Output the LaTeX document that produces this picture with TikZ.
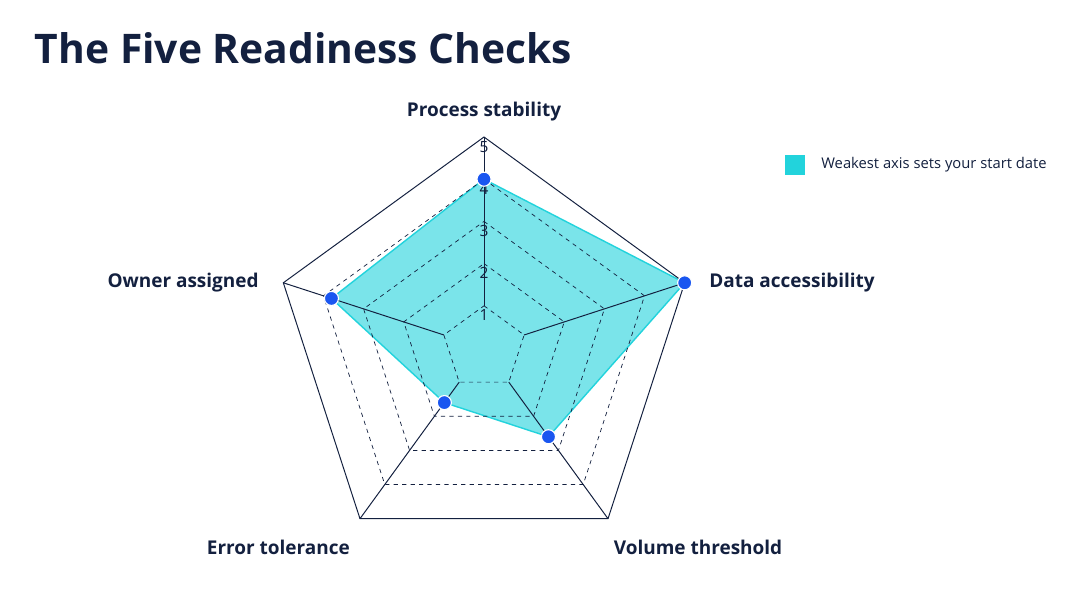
\documentclass[tikz,border=0pt]{standalone}
\usepackage{fontspec}
\setmainfont{Open Sans}
\definecolor{navy}{HTML}{13203F}
\definecolor{teal}{HTML}{22D3DC}
\definecolor{dotblue}{HTML}{1A56F0}
\tikzset{
  axislabel/.style={font=\fontsize{13.5}{16}\selectfont\bfseries, text=navy},
  ring/.style={draw=navy, dashed, line width=0.5pt},
  spoke/.style={draw=navy, line width=0.7pt},
  tick/.style={font=\fontsize{11}{13}\selectfont, text=navy, inner sep=0.5pt},
  dot/.style={circle, fill=dotblue, draw=white, line width=0.8pt, minimum size=10pt, inner sep=0pt}
}
\begin{document}
\begin{tikzpicture}[x=0.025cm, y=0.025cm]
\useasboundingbox (0,0) rectangle (1088,608);
\fill[white] (0,0) rectangle (1088,608);

\node[anchor=west, font=\fontsize{29}{33}\selectfont\bfseries, text=navy] (title) at (30,560) {The Five Readiness Checks};

\coordinate (center) at (484,260);

% data
\coordinate (p1) at ([shift={(90:168.8)}]center);
\coordinate (p2) at ([shift={(18:211)}]center);
\coordinate (p3) at ([shift={(-54:109.7)}]center);
\coordinate (p4) at ([shift={(-126:67.5)}]center);
\coordinate (p5) at ([shift={(162:160.4)}]center);
\filldraw[fill=teal, fill opacity=0.6, draw=teal, line width=1pt] (p1) -- (p2) -- (p3) -- (p4) -- (p5) -- cycle;

% rings and spokes
\foreach \k in {1,...,4}
  \draw[ring] ([shift={(90:42.2*\k)}]center) -- ([shift={(18:42.2*\k)}]center) -- ([shift={(-54:42.2*\k)}]center) -- ([shift={(-126:42.2*\k)}]center) -- ([shift={(162:42.2*\k)}]center) -- cycle;
\draw[spoke] ([shift={(90:211)}]center) coordinate (v1) -- ([shift={(18:211)}]center) coordinate (v2) -- ([shift={(-54:211)}]center) coordinate (v3) -- ([shift={(-126:211)}]center) coordinate (v4) -- ([shift={(162:211)}]center) coordinate (v5) -- cycle;
\foreach \a/\v in {90/v1,18/v2,-54/v3,-126/v4,162/v5}
  \draw[spoke] ([shift={(\a:42.2)}]center) -- (\v);

% tick labels
\foreach \k in {1,...,5}
  \node[tick, anchor=north] (tick\k) at ([shift={(0,42.2*\k-3)}]center) {\k};

\foreach \p in {p1,p2,p3,p4,p5}
  \node[dot] (dot\p) at (\p) {};

\node[axislabel, anchor=south] (process) at ([yshift=8]v1) {Process stability};
\node[axislabel, anchor=west] (data) at ([xshift=14]v2) {Data accessibility};
\node[axislabel, anchor=north] (volume) at ([xshift=64,yshift=-12]v3) {Volume threshold};
\node[axislabel, anchor=north] (error) at ([xshift=-58,yshift=-12]v4) {Error tolerance};
\node[axislabel, anchor=east] (owner) at ([xshift=-14]v5) {Owner assigned};

% legend
\node[fill=teal, minimum size=14pt, inner sep=0pt] (legbox) at (795,443) {};
\node[anchor=west, font=\fontsize{10.5}{12}\selectfont, text=navy] (legtext) at ([xshift=8]legbox.east) {Weakest axis sets your start date};
\end{tikzpicture}
\end{document}
